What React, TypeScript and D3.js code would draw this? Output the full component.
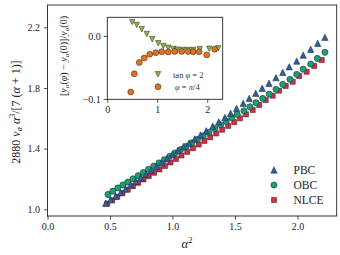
import React, { useEffect, useRef } from 'react';
import * as d3 from 'd3';

// main panel: alpha^2 vs scaled v_alpha
const pbcX = [0.466, 0.505, 0.545, 0.585, 0.625, 0.665, 0.706, 0.747, 0.788, 0.830, 0.872, 0.914, 0.957, 1.000, 1.044, 1.088, 1.133, 1.178, 1.224, 1.270, 1.322, 1.370, 1.420, 1.465, 1.513, 1.566, 1.614, 1.666, 1.718, 1.772, 1.828, 1.882, 1.934, 1.994, 2.046, 2.106, 2.162, 2.220];
const pbcY = [1.040, 1.063, 1.086, 1.110, 1.134, 1.160, 1.184, 1.208, 1.232, 1.257, 1.282, 1.307, 1.336, 1.364, 1.390, 1.414, 1.437, 1.464, 1.490, 1.518, 1.548, 1.576, 1.606, 1.633, 1.666, 1.699, 1.732, 1.765, 1.798, 1.831, 1.868, 1.903, 1.940, 1.977, 2.017, 2.055, 2.094, 2.134];

const obcX = [0.484, 0.523, 0.563, 0.603, 0.643, 0.684, 0.725, 0.766, 0.808, 0.850, 0.892, 0.935, 0.978, 1.021, 1.065, 1.110, 1.155, 1.200, 1.246, 1.292, 1.340, 1.386, 1.430, 1.474, 1.518, 1.572, 1.620, 1.668, 1.722, 1.774, 1.828, 1.882, 1.940, 1.994, 2.046, 2.106, 2.159, 2.220];
const obcY = [1.098, 1.120, 1.141, 1.161, 1.180, 1.201, 1.222, 1.243, 1.264, 1.285, 1.306, 1.328, 1.350, 1.372, 1.394, 1.416, 1.438, 1.461, 1.484, 1.508, 1.533, 1.557, 1.580, 1.604, 1.626, 1.650, 1.676, 1.703, 1.731, 1.760, 1.791, 1.824, 1.857, 1.890, 1.924, 1.958, 1.995, 2.035];

const nlceX = [0.478, 0.518, 0.558, 0.600, 0.642, 0.684, 0.726, 0.768, 0.810, 0.853, 0.896, 0.940, 0.984, 1.028, 1.072, 1.118, 1.164, 1.210, 1.256, 1.302, 1.350, 1.398, 1.446, 1.494, 1.540, 1.588, 1.642, 1.694, 1.746, 1.802, 1.852, 1.906, 1.962, 2.014, 2.074, 2.134, 2.194];
const nlceY = [1.038, 1.060, 1.083, 1.107, 1.130, 1.153, 1.175, 1.197, 1.219, 1.241, 1.263, 1.286, 1.309, 1.332, 1.355, 1.379, 1.403, 1.427, 1.451, 1.475, 1.500, 1.525, 1.550, 1.575, 1.600, 1.626, 1.655, 1.688, 1.720, 1.749, 1.782, 1.813, 1.841, 1.879, 1.907, 1.945, 1.984];

// inset: relative change
const tanX = [0.50, 0.59, 0.69, 0.79, 0.90, 1.02, 1.12, 1.22, 1.32, 1.40, 1.51, 1.61, 1.72, 1.85, 2.04, 2.22];
const tanY = [0.0222, 0.0175, 0.0106, 0.0032, -0.0052, -0.0116, -0.0159, -0.0186, -0.0206, -0.0217, -0.0222, -0.0222, -0.0222, -0.0211, -0.0202, -0.0196];
const piX = [0.47, 0.54, 0.64, 0.74, 0.85, 0.97, 1.09, 1.22, 1.35, 1.49, 1.62, 1.72, 1.84, 1.99, 2.15];
const piY = [-0.089, -0.060, -0.042, -0.035, -0.029, -0.0265, -0.025, -0.0254, -0.0246, -0.0246, -0.0246, -0.025, -0.025, -0.030, -0.021];

const mainXTicks = [0, 0.5, 1.0, 1.5, 2.0];
const mainYTicks = [1.0, 1.4, 1.8, 2.2];
const insetXTicks = [0, 1, 2];
const insetYTicks = [0.0, -0.1];

const serif = '"Liberation Serif", "DejaVu Serif", serif';

// matplotlib-like markers
const triUp = { draw(ctx: any, size: number) { const r = Math.sqrt(size) / 2; ctx.moveTo(0, -r); ctx.lineTo(r, r); ctx.lineTo(-r, r); ctx.closePath(); } };
const triDown = { draw(ctx: any, size: number) { const r = Math.sqrt(size) / 2; ctx.moveTo(0, r); ctx.lineTo(r, -r); ctx.lineTo(-r, -r); ctx.closePath(); } };
const square = { draw(ctx: any, size: number) { const r = Math.sqrt(size) / 2; ctx.rect(-r, -r, 2 * r, 2 * r); } };

const App = () => {
  const ref = useRef<SVGSVGElement>(null);

  useEffect(() => {
    const svg = d3.select(ref.current);
    svg.selectAll('*').remove();

    const x = d3.scaleLinear().domain([0, 2.314]).range([47.5, 336.7]);
    const y = d3.scaleLinear().domain([0.956, 2.347]).range([216, 5]);

    const g = svg.append('g');

    const drawSeries = (xs: number[], ys: number[], type: any, size: number, fill: string, sx: any, sy: any, parent: any) => {
      parent.append('g').selectAll('path')
        .data(xs.map((v, i) => [v, ys[i]]))
        .join('path')
        .attr('transform', (d: number[]) => `translate(${sx(d[0])},${sy(d[1])})`)
        .attr('d', d3.symbol().type(type).size(size)())
        .attr('fill', fill)
        .attr('stroke', '#222')
        .attr('stroke-width', 0.5);
    };

    drawSeries(nlceX, nlceY, square, 26, '#d62a45', x, y, g);
    drawSeries(obcX, obcY, d3.symbolCircle, 30, '#1c9e78', x, y, g);
    drawSeries(pbcX, pbcY, triUp, 40, '#2660aa', x, y, g);

    // main axes
    const xa = g.append('g').attr('transform', 'translate(0,216)')
      .call(d3.axisBottom(x).tickValues(mainXTicks).tickSize(3.5).tickPadding(3).tickFormat(d3.format('.1f')));
    const ya = g.append('g').attr('transform', 'translate(47.5,0)')
      .call(d3.axisLeft(y).tickValues(mainYTicks).tickSize(3.5).tickPadding(4).tickFormat(d3.format('.1f')));
    [xa, ya].forEach(a => {
      a.select('.domain').remove();
      a.selectAll('text').attr('font-family', serif).attr('font-size', 10).attr('fill', '#222');
      a.selectAll('line').attr('stroke', '#222').attr('stroke-width', 0.8);
    });
    g.append('rect').attr('x', 47.5).attr('y', 5).attr('width', 336.7 - 47.5).attr('height', 211)
      .attr('fill', 'none').attr('stroke', '#222').attr('stroke-width', 0.9);

    // main legend
    const legend = [
      { label: 'PBC', type: triUp, size: 40, fill: '#2660aa' },
      { label: 'OBC', type: d3.symbolCircle, size: 30, fill: '#1c9e78' },
      { label: 'NLCE', type: square, size: 26, fill: '#d62a45' },
    ];
    legend.forEach((l, i) => {
      const yy = 170 + i * 15;
      g.append('path').attr('transform', `translate(274,${yy})`)
        .attr('d', d3.symbol().type(l.type).size(l.size)())
        .attr('fill', l.fill).attr('stroke', '#222').attr('stroke-width', 0.5);
      g.append('text').attr('x', 293.5).attr('y', yy + 4).attr('font-family', serif)
        .attr('font-size', 11.5).attr('fill', '#222').text(l.label);
    });

    // axis labels
    const xl = g.append('text').attr('x', 187).attr('y', 248).attr('text-anchor', 'middle')
      .attr('font-family', serif).attr('font-size', 12.5).attr('fill', '#222');
    xl.append('tspan').attr('font-style', 'italic').text('α');
    xl.append('tspan').attr('font-size', 8.5).attr('dy', -5).text('2');

    const yl = g.append('text').attr('transform', 'translate(20,112) rotate(-90)').attr('text-anchor', 'middle')
      .attr('font-family', serif).attr('font-size', 12).attr('fill', '#222');
    yl.append('tspan').text('2880 ');
    yl.append('tspan').attr('font-style', 'italic').text('v');
    yl.append('tspan').attr('font-style', 'italic').attr('font-size', 8).attr('dy', 2).text('α');
    yl.append('tspan').attr('font-style', 'italic').attr('dy', -2).text(' α');
    yl.append('tspan').attr('font-size', 8).attr('dy', -5).text('3');
    yl.append('tspan').attr('dy', 5).text('/[7 (');
    yl.append('tspan').attr('font-style', 'italic').text('α');
    yl.append('tspan').text(' + 1)]');

    // inset
    const ix = d3.scaleLinear().domain([0, 2.31]).range([107.3, 222.7]);
    const iy = d3.scaleLinear().domain([-0.1005, 0.0297]).range([99.3, 17.3]);
    const ig = svg.append('g');
    ig.append('rect').attr('x', 107.3).attr('y', 17.3).attr('width', 222.7 - 107.3).attr('height', 82)
      .attr('fill', '#fff');

    drawSeries(tanX, tanY, triDown, 30, '#8cba3c', ix, iy, ig);
    drawSeries(piX, piY, d3.symbolCircle, 28, '#e2701c', ix, iy, ig);

    const ixa = ig.append('g').attr('transform', 'translate(0,99.3)')
      .call(d3.axisBottom(ix).tickValues(insetXTicks).tickSize(3.5).tickPadding(3).tickFormat(d3.format('d')));
    const iya = ig.append('g').attr('transform', 'translate(107.3,0)')
      .call(d3.axisLeft(iy).tickValues(insetYTicks).tickSize(3.5).tickPadding(3)
        .tickFormat((d: any) => d3.format('.1f')(d).replace('-', '−')));
    [ixa, iya].forEach(a => {
      a.select('.domain').remove();
      a.selectAll('text').attr('font-family', serif).attr('font-size', 10).attr('fill', '#222');
      a.selectAll('line').attr('stroke', '#222').attr('stroke-width', 0.8);
    });
    ig.append('rect').attr('x', 107.3).attr('y', 17.3).attr('width', 222.7 - 107.3).attr('height', 82)
      .attr('fill', 'none').attr('stroke', '#222').attr('stroke-width', 0.9);

    // inset legend
    ig.append('path').attr('transform', 'translate(158,74.3)')
      .attr('d', d3.symbol().type(triDown).size(30)())
      .attr('fill', '#8cba3c').attr('stroke', '#222').attr('stroke-width', 0.5);
    ig.append('path').attr('transform', 'translate(158,86.7)')
      .attr('d', d3.symbol().type(d3.symbolCircle).size(28)())
      .attr('fill', '#e2701c').attr('stroke', '#222').attr('stroke-width', 0.5);
    const t1 = ig.append('text').attr('x', 173).attr('y', 77.5).attr('font-family', serif)
      .attr('font-size', 8.5).attr('fill', '#333');
    t1.append('tspan').text('tan ');
    t1.append('tspan').attr('font-style', 'italic').text('φ');
    t1.append('tspan').text(' = 2');
    const t2 = ig.append('text').attr('x', 175).attr('y', 90).attr('font-family', serif)
      .attr('font-size', 8.5).attr('fill', '#333');
    t2.append('tspan').attr('font-style', 'italic').text('φ');
    t2.append('tspan').text(' = ');
    t2.append('tspan').attr('font-style', 'italic').text('π');
    t2.append('tspan').text('/4');

    const il = ig.append('text').attr('transform', 'translate(67,56) rotate(-90)').attr('text-anchor', 'middle')
      .attr('font-family', serif).attr('font-size', 10).attr('fill', '#222');
    il.append('tspan').text('[');
    il.append('tspan').attr('font-style', 'italic').text('y');
    il.append('tspan').attr('font-style', 'italic').attr('font-size', 7).attr('dy', 1.5).text('α');
    il.append('tspan').attr('dy', -1.5).text('(');
    il.append('tspan').attr('font-style', 'italic').text('φ');
    il.append('tspan').text(') − ');
    il.append('tspan').attr('font-style', 'italic').text('y');
    il.append('tspan').attr('font-style', 'italic').attr('font-size', 7).attr('dy', 1.5).text('α');
    il.append('tspan').attr('dy', -1.5).text('(0)]/');
    il.append('tspan').attr('font-style', 'italic').text('y');
    il.append('tspan').attr('font-style', 'italic').attr('font-size', 7).attr('dy', 1.5).text('α');
    il.append('tspan').attr('dy', -1.5).text('(0)');
  }, []);

  return (
    <svg ref={ref} width={340} height={255}
      style={{ position: 'absolute', left: 0, top: 0, background: '#fff' }} />
  );
};

export default App;
